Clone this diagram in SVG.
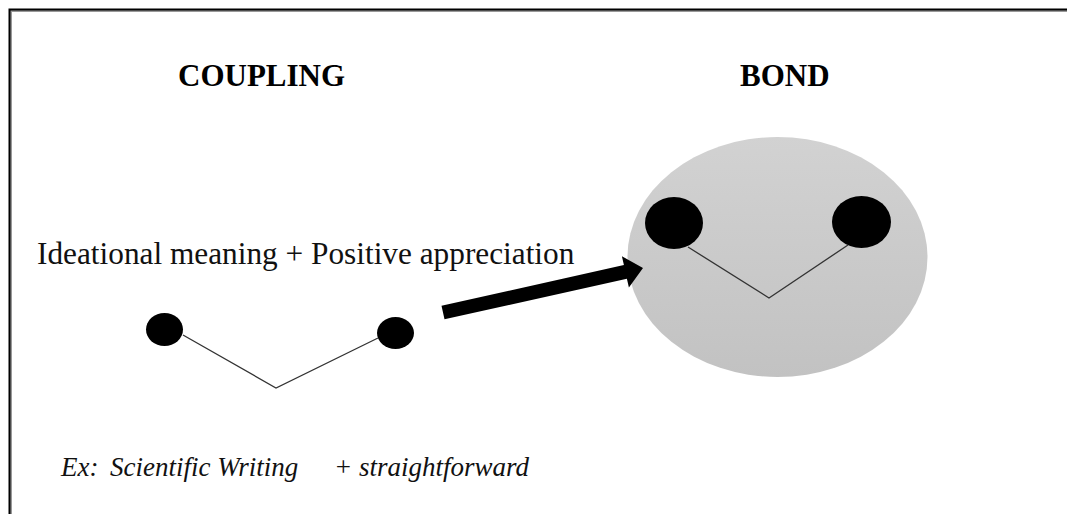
<svg xmlns="http://www.w3.org/2000/svg" width="1067" height="514" viewBox="0 0 1067 514">
<defs>
<linearGradient id="bondFill" x1="0" y1="0" x2="0" y2="1">
<stop offset="0" stop-color="#d2d2d2"/>
<stop offset="1" stop-color="#c2c2c2"/>
</linearGradient>
<style>
.title{font-family:"Liberation Serif",serif;font-weight:bold;font-size:31px;fill:#000}
.label{font-family:"Liberation Serif",serif;font-size:31.3px;fill:#111}
.ex{font-family:"Liberation Serif",serif;font-style:italic;font-size:27px;fill:#111}
.dot{fill:#000}
.link{fill:none;stroke:#333;stroke-width:1.3}
</style>
</defs>
<rect width="1067" height="514" fill="#fff"/>
<g id="frame">
<path d="M10.5,514 V10.5 H1067" fill="none" stroke="#999" stroke-width="3"/>
<path d="M9.5,514 V9.5 H1067" fill="none" stroke="#000" stroke-width="2"/>
</g>
<g id="title-coupling"><text class="title" x="178" y="86">COUPLING</text></g>
<g id="title-bond"><text class="title" x="740" y="86">BOND</text></g>
<g id="label-meaning"><text class="label" x="37" y="264">Ideational meaning + Positive appreciation</text></g>
<g id="bond">
<ellipse cx="777.5" cy="257" rx="150" ry="120" fill="url(#bondFill)"/>
<ellipse class="dot" cx="674" cy="223" rx="29" ry="26"/>
<ellipse class="dot" cx="861.5" cy="222" rx="29.5" ry="26"/>
</g>
<g id="coupling">
<ellipse class="dot" cx="164.5" cy="329.5" rx="18.5" ry="16.5"/>
<ellipse class="dot" cx="395.5" cy="333" rx="18.5" ry="16"/>
</g>
<g id="connectors">
<polyline class="link" points="183,335 276,388 378,338"/>
<polyline class="link" points="688,247 769,298 848,245"/>
<polygon points="441.5,305.7 623.9,265.1 621.9,256.3 643,268 628.9,287.5 626.9,278.7 444.5,319.3" fill="#000"/>
</g>
<g id="example">
<text class="ex" y="476"><tspan x="61">Ex:</tspan><tspan x="110">Scientific Writing</tspan><tspan x="334">+ straightforward</tspan></text>
</g>
</svg>
